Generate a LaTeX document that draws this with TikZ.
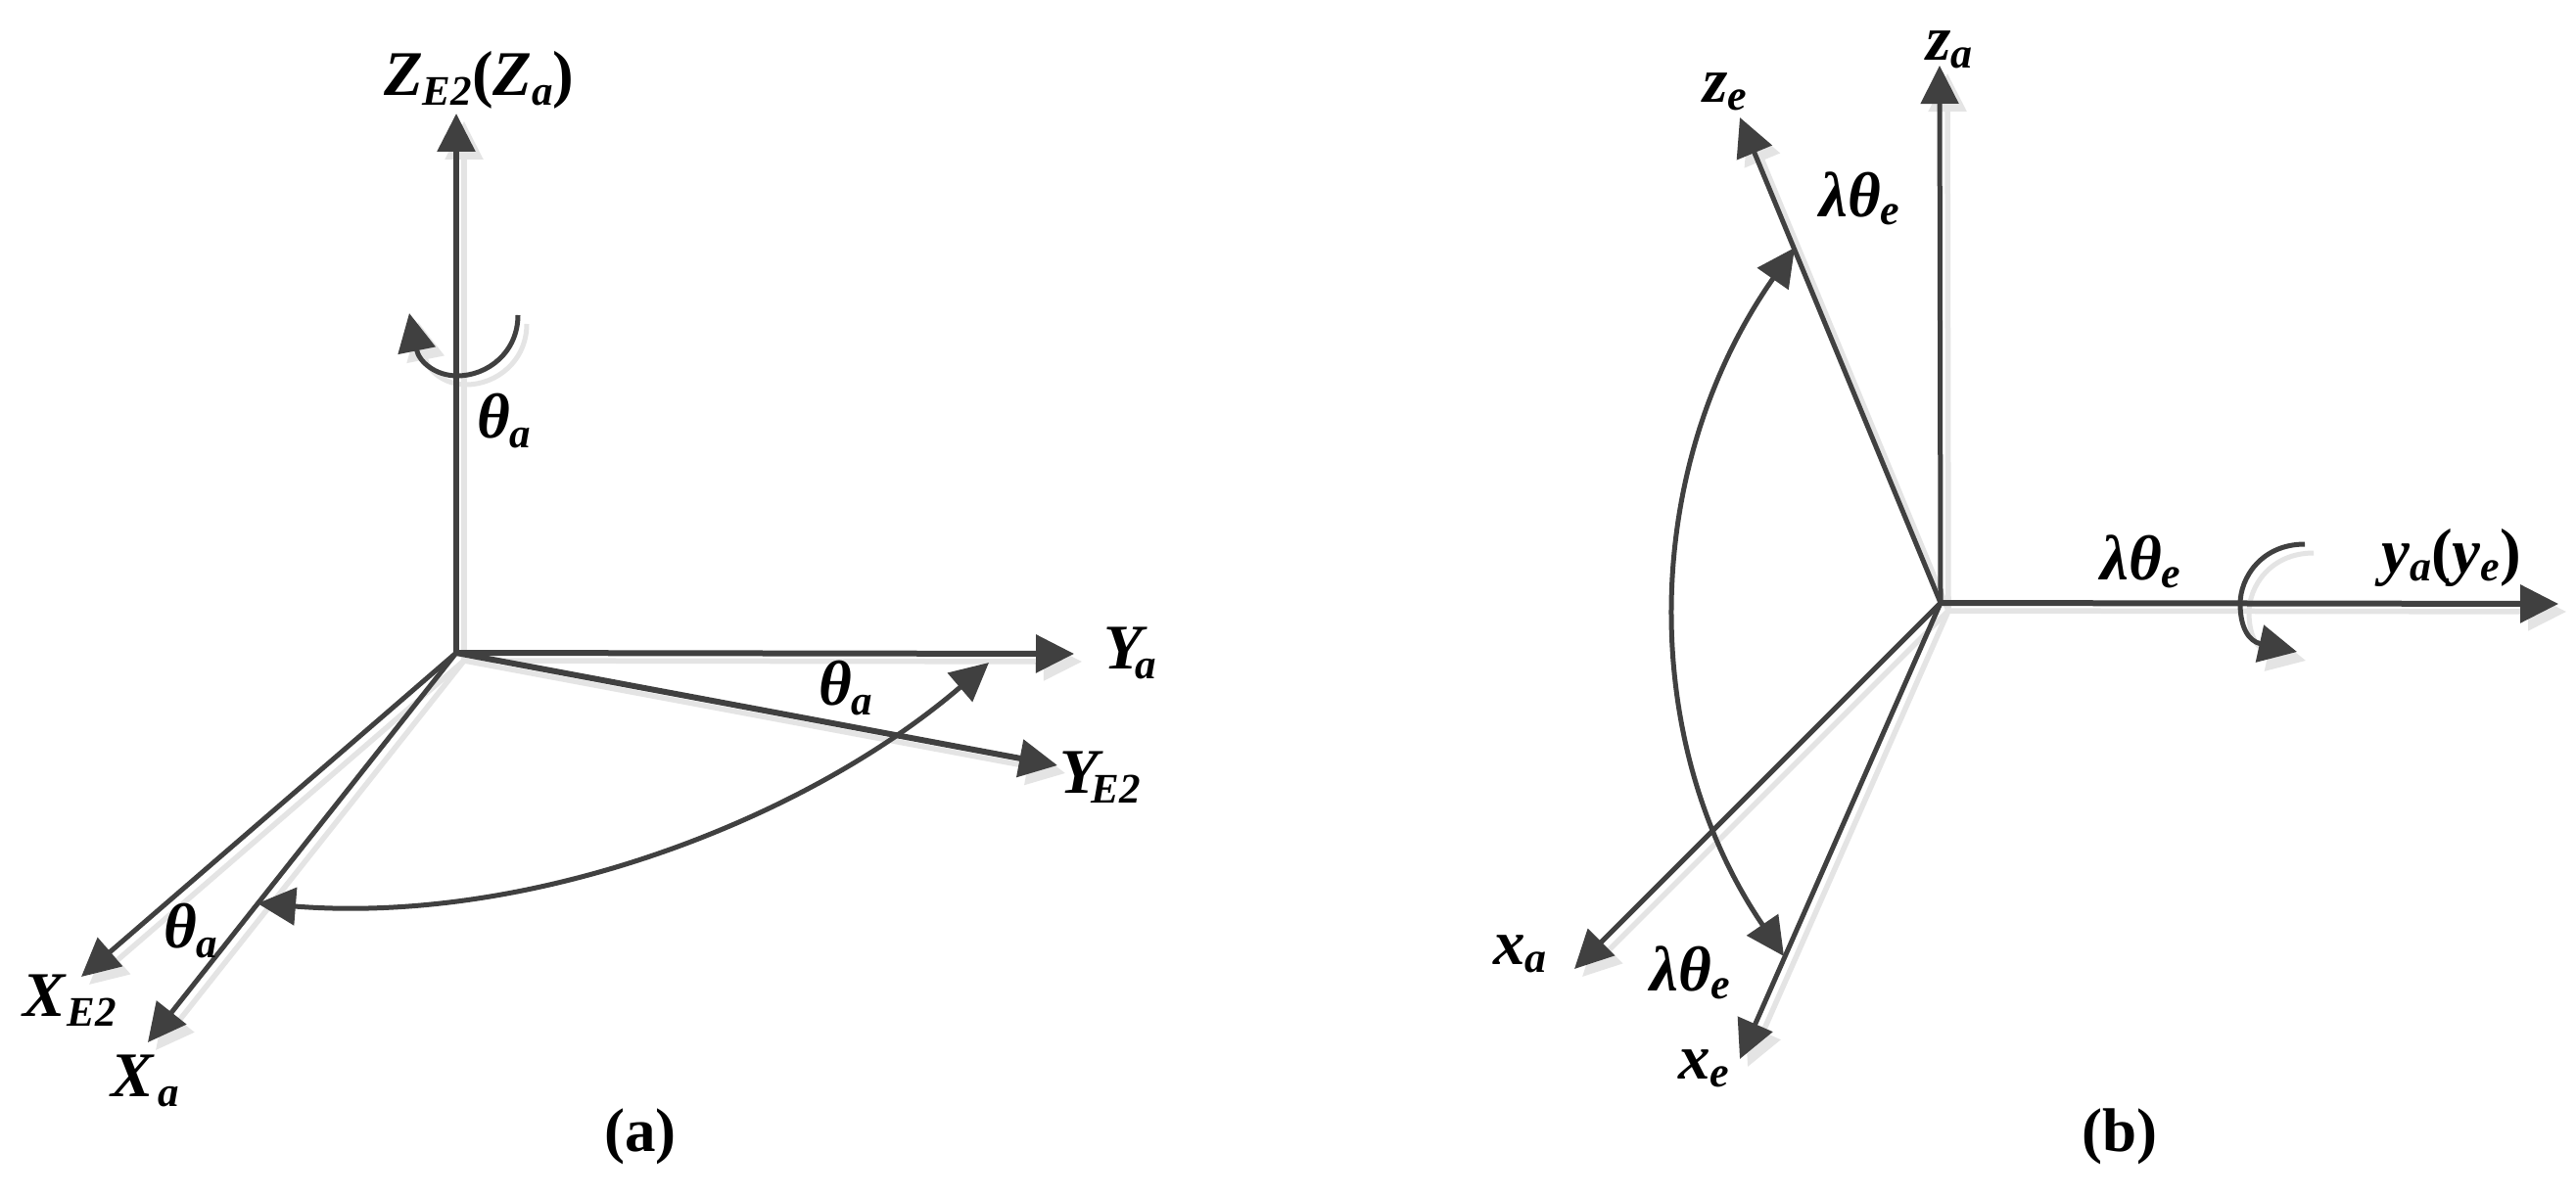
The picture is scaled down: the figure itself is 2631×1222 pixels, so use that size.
\documentclass[tikz,border=0pt]{standalone}
\usepackage{fontspec}
\setmainfont{Liberation Serif}
\usetikzlibrary{arrows.meta}
\definecolor{ink}{HTML}{404040}
\definecolor{shade}{HTML}{E4E4E4}
\newcommand\sbs[1]{\raisebox{-10pt}{\fontsize{43}{43}\selectfont #1}}
\newcommand\sbl[1]{\raisebox{-8pt}{\fontsize{44}{44}\selectfont #1}}
\tikzset{
  lab/.style={anchor=base west,inner sep=0pt,text=black,font=\fontsize{65}{65}\selectfont\bfseries\itshape},
  capt/.style={inner sep=0pt,text=black,font=\fontsize{63}{63}\selectfont\bfseries},
  head/.style={-{Triangle[length=39pt,width=38pt]}},
  axis/.style={draw=ink,line width=6pt,head},
  thinaxis/.style={draw=ink,line width=5pt,head},
  curve/.style={draw=ink,line width=5pt,head},
  curvetwo/.style={draw=ink,line width=5pt,{Triangle[length=39pt,width=38pt]}-{Triangle[length=39pt,width=38pt]}},
  sh/.style={draw=shade,line width=5.5pt,head},
}
\begin{document}
\begin{tikzpicture}[x=1pt,y=-1pt]
\useasboundingbox (0,0) rectangle (2631,1222);
\fill[white] (0,0) rectangle (2631,1222);
% panel a anchors
\coordinate (oa) at (466,667);
\coordinate (za) at (466,116);
\coordinate (ya) at (1097,668);
\coordinate (ye) at (1080,782);
\coordinate (xe) at (83,998);
\coordinate (xa) at (151,1065);
% panel b anchors
\coordinate (ob) at (1982,616);
\coordinate (zb) at (1981,67);
\coordinate (zeb) at (1777,120);
\coordinate (yb) at (2613,617);
\coordinate (xab) at (1608,990);
\coordinate (xeb) at (1777,1082);
% shadows
\foreach \t in {za,ya,ye,xe,xa}{\draw[sh] ([shift={(8,8)}]oa) -- ([shift={(8,8)}]\t);}
\foreach \t in {zb,zeb,yb,xab,xeb}{\draw[sh] ([shift={(8,8)}]ob) -- ([shift={(8,8)}]\t);}
\begin{scope}[shift={(9,9)}]
\draw[sh,line width=5pt] (529,322) .. controls (529,360) and (498,384) .. (467,384) .. controls (445,384) and (428,370) .. (418,320);
\draw[sh,line width=5pt] (2354,556) .. controls (2310,556) and (2288,590) .. (2288,617) .. controls (2288,640) and (2296,655) .. (2346,666);
\end{scope}
% panel a
\draw[axis] (oa) -- (za);
\draw[axis] (oa) -- (ya);
\draw[axis] (oa) -- (ye);
\draw[thinaxis] (oa) -- (xe);
\draw[thinaxis] (oa) -- (xa);
\draw[curve] (529,322) .. controls (529,360) and (498,384) .. (467,384) .. controls (445,384) and (428,370) .. (418,320);
\draw[curvetwo] (263,923) .. controls (540,945) and (820,840) .. (1010,677);
% panel b
\draw[thinaxis] (ob) -- (zb);
\draw[thinaxis] (ob) -- (zeb);
\draw[axis] (ob) -- (yb);
\draw[thinaxis] (ob) -- (xab);
\draw[thinaxis] (ob) -- (xeb);
\draw[curvetwo] (1833,253) .. controls (1674,480) and (1674,760) .. (1822,977);
\draw[curve] (2354,556) .. controls (2310,556) and (2288,590) .. (2288,617) .. controls (2288,640) and (2296,655) .. (2346,666);
% labels a
\node[lab] (l1) at (392,98) {Z\sbs{E2}\textup{(}Z\sbs{a}\textup{)}};
\node[lab] (l2) at (487,447) {θ\sbs{a}};
\node[lab] (l3) at (1127,683) {Y\kern-7pt\sbs{a}};
\node[lab] (l4) at (836,720) {θ\sbs{a}};
\node[lab] (l5) at (1082,810) {Y\kern-7pt\sbs{E2}};
\node[lab] (l6) at (167,968) {θ\sbs{a}};
\node[lab] (l7) at (23,1038) {X\kern2pt\sbs{E2}};
\node[lab] (l8) at (113,1120) {X\kern5pt\sbs{a}};
\node[capt] (ca) at (654,1161) {(a)};
% labels b
\node[lab] (m1) at (1967,62) {z\sbl{a}};
\node[lab] (m2) at (1739,105) {z\sbl{e}};
\node[lab] (m3) at (1858,222) {λθ\sbl{e}};
\node[lab] (m4) at (2145,592) {λθ\sbl{e}};
\node[lab] (m5) at (2432,585) {y\sbl{a}\textup{(}y\sbl{e}\textup{)}};
\node[lab] (m6) at (1525,985) {x\sbl{a}};
\node[lab] (m7) at (1685,1012) {λθ\sbl{e}};
\node[lab] (m8) at (1714,1102) {x\sbl{e}};
\node[capt] (cb) at (2165,1161) {(b)};
\end{tikzpicture}
\end{document}
